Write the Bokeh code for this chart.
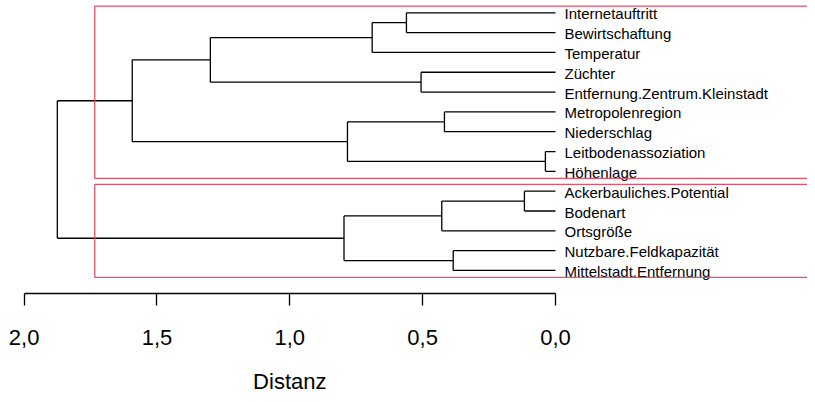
from bokeh.plotting import figure
from bokeh.models import Range1d, LinearAxis, FixedTicker
from bokeh.core.properties import value
from bokeh.embed import file_html
from bokeh.resources import INLINE

# ---------------- data ----------------
leaf_labels = [
    "Internetauftritt", "Bewirtschaftung", "Temperatur", "Züchter",
    "Entfernung.Zentrum.Kleinstadt", "Metropolenregion", "Niederschlag",
    "Leitbodenassoziation", "Höhenlage", "Ackerbauliches.Potential",
    "Bodenart", "Ortsgröße", "Nutzbare.Feldkapazität", "Mittelstadt.Entfernung",
]
# merges: ids < 14 are leaves, id 14+k is the node created by merge k
merge_left = [7, 9, 12, 5, 15, 3, 0, 20, 17, 18, 21, 24, 25]
merge_right = [8, 10, 13, 6, 11, 4, 1, 2, 14, 16, 19, 22, 23]
merge_height = [0.038, 0.117, 0.385, 0.418, 0.428, 0.506, 0.561,
                0.690, 0.783, 0.796, 1.299, 1.593, 1.875]
cluster_sizes = [9, 5]
tick_values = [2.0, 1.5, 1.0, 0.5, 0.0]
tick_labels = ["2,0", "1,5", "1,0", "0,5", "0,0"]
axis_title = "Distanz"

FONT = "Liberation Sans"
RED = "#DF536B"
W, H = 807, 394
PX_PER_UNIT = 265.7      # pixels per distance unit
ZERO_PX = 555.0          # pixel x of distance 0
LEAF_STEP = 19.82        # pixels between leaves
FIRST_LEAF_PX = 12.3     # pixel y of first leaf
AXIS_PX = 293.0          # pixel y of the axis line

# ---------------- layout of the tree ----------------
n = len(leaf_labels)
pos = [float(i + 1) for i in range(n)]
hgt = [0.0] * n
x0, y0, x1, y1 = [], [], [], []
for l, r, h in zip(merge_left, merge_right, merge_height):
    for c in (l, r):
        x0.append(hgt[c]); y0.append(pos[c]); x1.append(h); y1.append(pos[c])
    x0.append(h); y0.append(pos[l]); x1.append(h); y1.append(pos[r])
    pos.append((pos[l] + pos[r]) / 2)
    hgt.append(h)

X_LEFT = ZERO_PX / PX_PER_UNIT
X_RIGHT = (ZERO_PX - W) / PX_PER_UNIT
Y_TOP = 1 - FIRST_LEAF_PX / LEAF_STEP
Y_BOTTOM = 1 + (H - FIRST_LEAF_PX) / LEAF_STEP
AXIS_Y = 1 + (AXIS_PX - FIRST_LEAF_PX) / LEAF_STEP

p = figure(width=W, height=H, output_backend="svg", toolbar_location=None,
           x_range=Range1d(X_LEFT, X_RIGHT), y_range=Range1d(Y_BOTTOM, Y_TOP),
           x_axis_location=None, y_axis_location=None,
           min_border_left=0, min_border_right=0, min_border_top=0,
           min_border_bottom=0)
p.outline_line_color = None
p.grid.visible = False
p.background_fill_color = "white"
p.border_fill_color = "white"

p.segment(x0=x0, y0=y0, x1=x1, y1=y1, line_color="black", line_width=1.3)

# leaf labels
p.text(x=[0.0] * n, y=pos[:n], text=leaf_labels, x_offset=9, y_offset=1,
       text_font=value(FONT), text_font_size="15px", text_color="black",
       text_align="left", text_baseline="middle")

# cluster rectangles
cut = (merge_height[-1] + merge_height[-2]) / 2
lefts, rights, tops, bottoms = [], [], [], []
start = 1
for size in cluster_sizes:
    first, last = start, start + size - 1
    lefts.append(cut); rights.append(X_RIGHT - 0.5)
    tops.append(first - 0.34); bottoms.append(last + 0.35)
    start += size
p.quad(left=lefts, right=rights, top=tops, bottom=bottoms,
       fill_color=None, line_color=RED, line_width=1.3)

# axis (drawn at a fixed location inside the plot area)
ax = LinearAxis(bounds=(0, 2), ticker=FixedTicker(ticks=tick_values),
                major_label_overrides=dict(zip(tick_values, tick_labels)),
                fixed_location=AXIS_Y)
ax.axis_line_color = "black"
ax.axis_line_width = 1.3
ax.major_tick_line_color = "black"
ax.major_tick_line_width = 1.3
ax.minor_tick_line_color = None
ax.major_tick_out = 12
ax.major_tick_in = 0
ax.major_label_standoff = 24
ax.major_label_text_font = FONT
ax.major_label_text_font_size = "22px"
ax.major_label_text_color = "black"
p.add_layout(ax, "below")

# axis title, centred under the axis span
p.text(x=[sum(ax.bounds) / 2], y=[AXIS_Y], text=[axis_title], y_offset=88,
       text_font=value(FONT), text_font_size="22px", text_color="black",
       text_align="center", text_baseline="middle")

open("out.html", "w").write(file_html(p, INLINE))
